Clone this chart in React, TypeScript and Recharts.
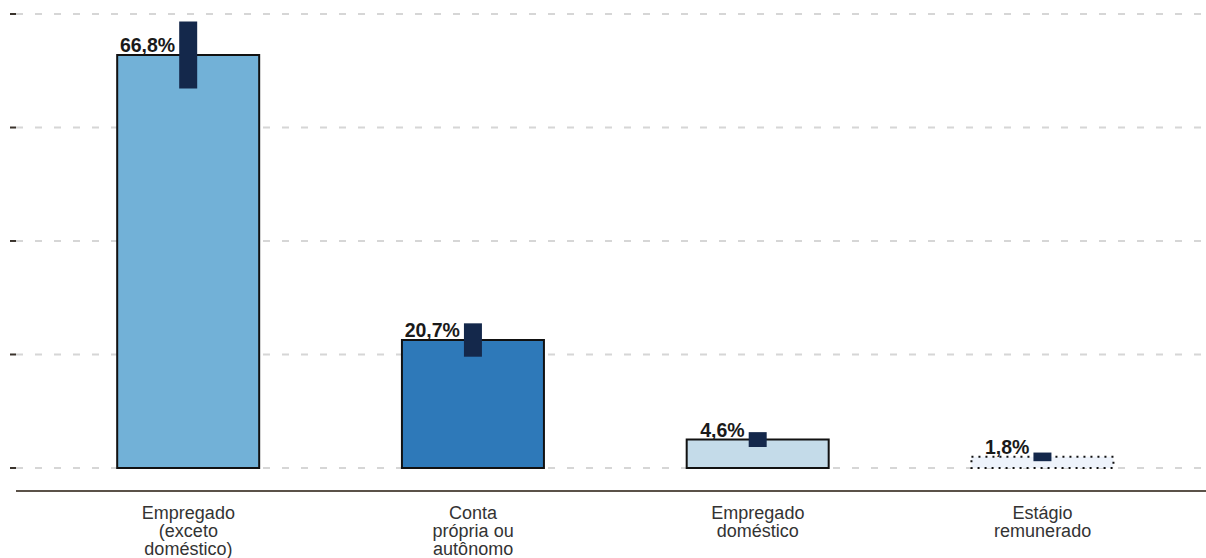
import { BarChart, Bar, XAxis, YAxis, CartesianGrid, Cell, LabelList, ErrorBar } from "recharts";

// categorias (quebradas em linhas como no gráfico original)
const categories = [
  "Empregado\n(exceto\ndoméstico)",
  "Conta\nprópria ou\nautônomo",
  "Empregado\ndoméstico",
  "Estágio\nremunerado",
];
const shares = [66.8, 20.7, 4.6, 1.8];
// meia-amplitude do intervalo de confiança (p.p.)
const ciHalf = [5.4, 2.7, 1.2, 0.7];
// linhas de grade (sem rótulo)
const gridTicks = [0, 18.36, 36.72, 55.07, 73.43];

const data = categories.map((name, i) => ({ name, share: shares[i], ci: ciHalf[i] }));

const FONT = "'Liberation Sans', Arial, Helvetica, sans-serif";
const fills = ["#72b1d7", "#2e79b9", "#c4dbe9", "#eef3fb"];

function CategoryTick(props: any) {
  const { x, y, payload } = props;
  const lines = String(payload.value).split("\n");
  return (
    <text x={x} y={y} textAnchor="middle" fill="#333333" fontSize={18} fontFamily={FONT}>
      {lines.map((l, i) => (
        <tspan key={i} x={x} y={y + 28 + i * 18}>
          {l}
        </tspan>
      ))}
    </text>
  );
}

function ValueLabel(props: any) {
  const { x, y, width, value } = props;
  if (typeof x !== "number" || typeof y !== "number") return null;
  const txt = Number(value).toFixed(1).replace(".", ",") + "%";
  return (
    <text x={x + width / 2 - 13} y={y - 3} textAnchor="end" fill="#1a1a1a" fontSize={19.5} fontWeight={700} fontFamily={FONT}>
      {txt}
    </text>
  );
}

export default function App() {
  return (
    <div style={{ position: "absolute", left: 0, top: 0, background: "#ffffff" }}>
      <BarChart
        width={1206}
        height={558}
        data={data}
        margin={{ top: 14, right: 0, left: 0, bottom: 0 }}
        barCategoryGap="25%"
      >
        <CartesianGrid vertical={false} stroke="#d6d6d6" strokeWidth={2} strokeDasharray="7 12" />
        <XAxis
          dataKey="name"
          height={67}
          tickSize={0}
          tickMargin={0}
          tickLine={false}
          interval={0}
          padding={{ left: 30, right: 21 }}
          axisLine={{ stroke: "#5b5249", strokeWidth: 2 }}
          tick={<CategoryTick />}
        />
        <YAxis
          width={16}
          domain={[-3.72, 73.43]}
          allowDataOverflow
          ticks={gridTicks}
          interval={0}
          tickSize={6}
          axisLine={false}
          tickLine={{ stroke: "#3a332c", strokeWidth: 2 }}
          tickFormatter={() => ""}
        />
        <Bar dataKey="share" isAnimationActive={false}>
          {data.map((d, i) => (
            <Cell
              key={d.name}
              fill={fills[i]}
              stroke="#111111"
              strokeWidth={2}
              strokeDasharray={i === 3 ? "2 5" : undefined}
            />
          ))}
          <ErrorBar dataKey="ci" width={0} strokeWidth={18} stroke="#14284b" isAnimationActive={false} />
          <LabelList dataKey="share" content={<ValueLabel />} />
        </Bar>
      </BarChart>
    </div>
  );
}
